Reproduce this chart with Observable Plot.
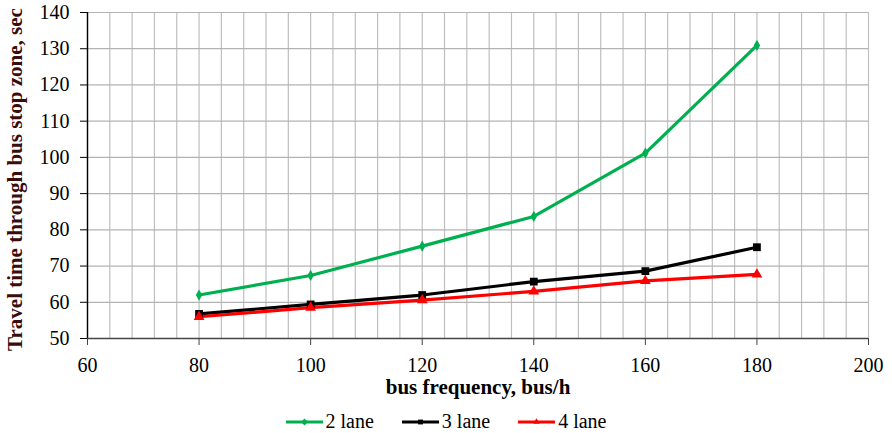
<!DOCTYPE html>
<html>
<head>
<meta charset="utf-8">
<script src="https://cdn.jsdelivr.net/npm/d3@7"></script>
<script src="https://cdn.jsdelivr.net/npm/@observablehq/plot@0.6"></script>
<style>
  html, body { margin: 0; padding: 0; background: #fff; }
  #chart { width: 892px; height: 400px; }
  .legend { width: 892px; display: flex; justify-content: center; font-family: 'Liberation Serif', 'Times New Roman', serif; font-size: 20px; height: 33px; align-items: center; padding-top: 5px; color: #000; }
  .legend span.item { display: inline-flex; align-items: center; margin: 0 14px; }
  .legend svg { margin-right: 3px; }
</style>
</head>
<body>
<div id="chart"></div>
<script>
const frequency = [80, 100, 120, 140, 160, 180];
const lane2 = [62.0, 67.4, 75.5, 83.7, 101.2, 130.9];
const lane3 = [56.8, 59.4, 62.0, 65.7, 68.6, 75.2];
const lane4 = [56.0, 58.5, 60.6, 63.0, 65.9, 67.7];
const seriesNames = ["2 lane", "3 lane", "4 lane"];
const seriesColors = ["#00b050", "#000000", "#ff0000"];
const seriesSymbols = ["diamond", "square", "triangle"];
const seriesSizes = [3.4, 4.4, 4.0];
const xTicks = [60, 80, 100, 120, 140, 160, 180, 200];
const yTicks = [50, 60, 70, 80, 90, 100, 110, 120, 130, 140];
const xGrid = d3.range(60, 201, 4);

const allSeries = [lane2, lane3, lane4];
const rows = [];
allSeries.forEach((vals, si) => vals.forEach((v, i) => rows.push({series: seriesNames[si], x: frequency[i], y: v})));

const font = "'Liberation Serif', 'Times New Roman', serif";

const chart = Plot.plot({
  width: 892,
  height: 400,
  marginTop: 12,
  marginBottom: 62,
  marginLeft: 87,
  marginRight: 24,
  style: {fontFamily: font, fontSize: "20px", color: "#000", background: "#fff"},
  x: {domain: [60, 200], label: null},
  y: {domain: [50, 140], label: null},
  color: {domain: seriesNames, range: seriesColors},
  symbol: {domain: seriesNames, range: seriesSymbols},
  marks: [
    Plot.ruleX(xGrid, {stroke: "#bfbfbf", strokeWidth: 1.2}),
    Plot.ruleY(yTicks, {stroke: "#b3b3b3", strokeWidth: 1.2}),
    Plot.ruleX([60], {stroke: "#000", strokeWidth: 1.4}),
    Plot.ruleY([50], {stroke: "#444", strokeWidth: 1.5}),
    Plot.axisX({ticks: xTicks, tickSize: 7, tickPadding: 12, fontSize: 20, fontFamily: font, label: null, stroke: "#444"}),
    Plot.axisY({ticks: yTicks, tickSize: 7, tickPadding: 11, fontSize: 20, fontFamily: font, label: null}),
    Plot.lineY(rows, {x: "x", y: "y", stroke: "series", strokeWidth: 3.2}),
    ...seriesNames.map((name, si) => Plot.dot(rows.filter(r => r.series === name), {
      x: "x", y: "y", symbol: "series", fill: "series", stroke: "none", r: seriesSizes[si]
    })),
    Plot.text(["bus frequency, bus/h"], {frameAnchor: "bottom", lineAnchor: "bottom", dy: 55, fontWeight: "bold", fontSize: 21, fontFamily: font, fill: "#000"}),
    Plot.text(["Travel time through bus stop zone, sec"], {frameAnchor: "left", dx: -72, dy: 4, rotate: -90, textAnchor: "middle", fontWeight: "bold", fontSize: 21, fontFamily: font, fill: "#3a0c0c"})
  ]
});
document.getElementById("chart").appendChild(chart);

// legend
const legend = document.createElement("div");
legend.className = "legend";
seriesNames.forEach((name, si) => {
  const item = document.createElement("span");
  item.className = "item";
  const sw = d3.create("svg").attr("width", 37).attr("height", 14);
  sw.append("line").attr("x1", 0).attr("x2", 37).attr("y1", 7).attr("y2", 7).attr("stroke", seriesColors[si]).attr("stroke-width", 3);
  sw.append("path").attr("transform", "translate(18.5,7)").attr("d", d3.symbol(
    si === 0 ? d3.symbolDiamond2 : si === 1 ? d3.symbolSquare2 : d3.symbolTriangle2, 30)()).attr("fill", seriesColors[si]);
  item.appendChild(sw.node());
  const t = document.createElement("span");
  t.textContent = name;
  item.appendChild(t);
  legend.appendChild(item);
});
document.body.appendChild(legend);
</script>
</body>
</html>
